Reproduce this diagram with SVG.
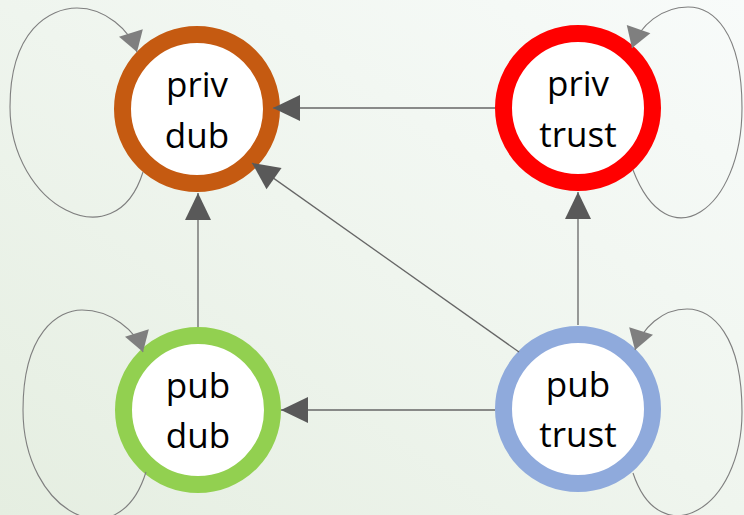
<svg xmlns="http://www.w3.org/2000/svg" width="744" height="515" viewBox="0 0 744 515">
  <defs>
    <linearGradient id="bg" x1="0" y1="1" x2="1" y2="0">
      <stop offset="0" stop-color="#e5eee1"/>
      <stop offset="0.5" stop-color="#eff5ee"/>
      <stop offset="1" stop-color="#f8fbfa"/>
    </linearGradient>
    <marker id="arrow" markerUnits="userSpaceOnUse" markerWidth="27" markerHeight="26" refX="27" refY="13" orient="auto" overflow="visible">
      <path d="M0,0 L27,13 L0,26 z" fill="#595959"/>
    </marker>
    <marker id="loopArrow" markerUnits="userSpaceOnUse" markerWidth="20" markerHeight="25" refX="20" refY="12.5" orient="auto" overflow="visible">
      <path d="M0,0 L20,12.5 L0,25 z" fill="#7f7f7f"/>
    </marker>
  </defs>
  <style>
    .ring { fill: #ffffff; stroke-width: 17; }
    .label { font-family: "Open Sans", "Liberation Sans", sans-serif; font-size: 35px; fill: #000000; text-anchor: middle; }
    .edge { fill: none; stroke: #666666; stroke-width: 1.3; marker-end: url(#arrow); }
    .loop { fill: none; stroke: #7f7f7f; stroke-width: 1.1; marker-end: url(#loopArrow); }
  </style>

  <rect x="0" y="0" width="744" height="515" fill="url(#bg)"/>

  <g id="priv-dub">
    <circle class="ring" cx="197" cy="109" r="74.5" stroke="#c55a11"/>
    <text class="label" x="197" y="97">priv</text>
    <text class="label" x="197" y="148">dub</text>
  </g>

  <g id="priv-trust">
    <circle class="ring" cx="578" cy="108" r="74.5" stroke="#ff0000"/>
    <text class="label" x="578" y="96">priv</text>
    <text class="label" x="578" y="147">trust</text>
  </g>

  <g id="pub-dub">
    <circle class="ring" cx="198" cy="410" r="74.5" stroke="#92d050"/>
    <text class="label" x="198" y="398">pub</text>
    <text class="label" x="198" y="448">dub</text>
  </g>

  <g id="pub-trust">
    <circle class="ring" cx="578" cy="409" r="74.5" stroke="#8faadc"/>
    <text class="label" x="578" y="397">pub</text>
    <text class="label" x="578" y="447">trust</text>
  </g>

  <g id="connectors">
    <!-- transitions between states -->
    <path class="edge" d="M495,108 L273,108"/>
    <path class="edge" d="M198,327 L198,193"/>
    <path class="edge" d="M519,352 L252,163"/>
    <path class="edge" d="M495,410 L281,410"/>
    <path class="edge" d="M578,325 L578,192"/>
    <!-- self loops -->
    <path class="loop" d="M143,172 C115,262 10,205 10,107 C10,30 50,8 77,8 C105,8 130,30 137,52"/>
    <path class="loop" d="M146,472 C118,562 23,512 23,410 C23,333 58,310 82,310 C110,310 136,330 143,352"/>
    <path class="loop" d="M633,170 C668,262 742,210 742,108 C742,30 712,7 688,7 C662,7 640,25 632,48"/>
    <path class="loop" d="M633,473 C660,555 742,510 742,412 C742,335 712,309 687,309 C662,309 642,328 635,350"/>
  </g>
</svg>
